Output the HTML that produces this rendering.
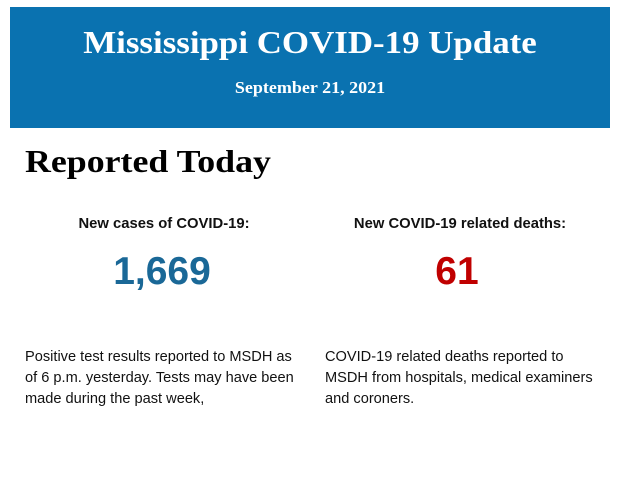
<!DOCTYPE html>
<html><head><style>
body{margin:0;width:620px;height:483px;background:#fff;position:relative;overflow:hidden;font-family:"Liberation Sans",sans-serif}
.hdr{position:absolute;left:10px;top:7px;width:600px;height:121px;background:#0a72b0;color:#fff;text-align:center;font-family:"Liberation Serif",serif;font-weight:bold}
.t{position:absolute;left:0;right:0;top:17px;font-size:32px;line-height:36px;transform:scaleX(1.09)}
.d{position:absolute;left:0;right:0;top:71px;font-size:17px;line-height:20px;transform:scaleX(1.06)}
.rt{position:absolute;left:25px;top:142px;font-family:"Liberation Serif",serif;font-weight:bold;font-size:32px;line-height:38px;color:#000;transform:scaleX(1.12);transform-origin:0 0}
.lab{position:absolute;top:216px;width:280px;text-align:center;font-weight:bold;font-size:14.8px;color:#111}
.num{position:absolute;top:249px;width:280px;text-align:center;font-family:"Liberation Sans",sans-serif;font-weight:bold;font-size:39px;line-height:46px}
.p{position:absolute;top:347px;width:276px;font-size:14.6px;line-height:21px;color:#111}
</style></head><body>
<div class="hdr"><div class="t">Mississippi COVID-19 Update</div><div class="d">September 21, 2021</div></div>
<div class="rt">Reported Today</div>
<div class="lab" style="left:24px">New cases of COVID-19:</div>
<div class="lab" style="left:320px">New COVID-19 related deaths:</div>
<div class="num" style="left:22px;color:#1a6897">1,669</div>
<div class="num" style="left:317px;color:#c00000">61</div>
<div class="p" style="left:25px">Positive test results reported to MSDH as of 6 p.m. yesterday. Tests may have been made during the past week,</div>
<div class="p" style="left:325px">COVID-19 related deaths reported to MSDH from hospitals, medical examiners and coroners.</div>
</body></html>
